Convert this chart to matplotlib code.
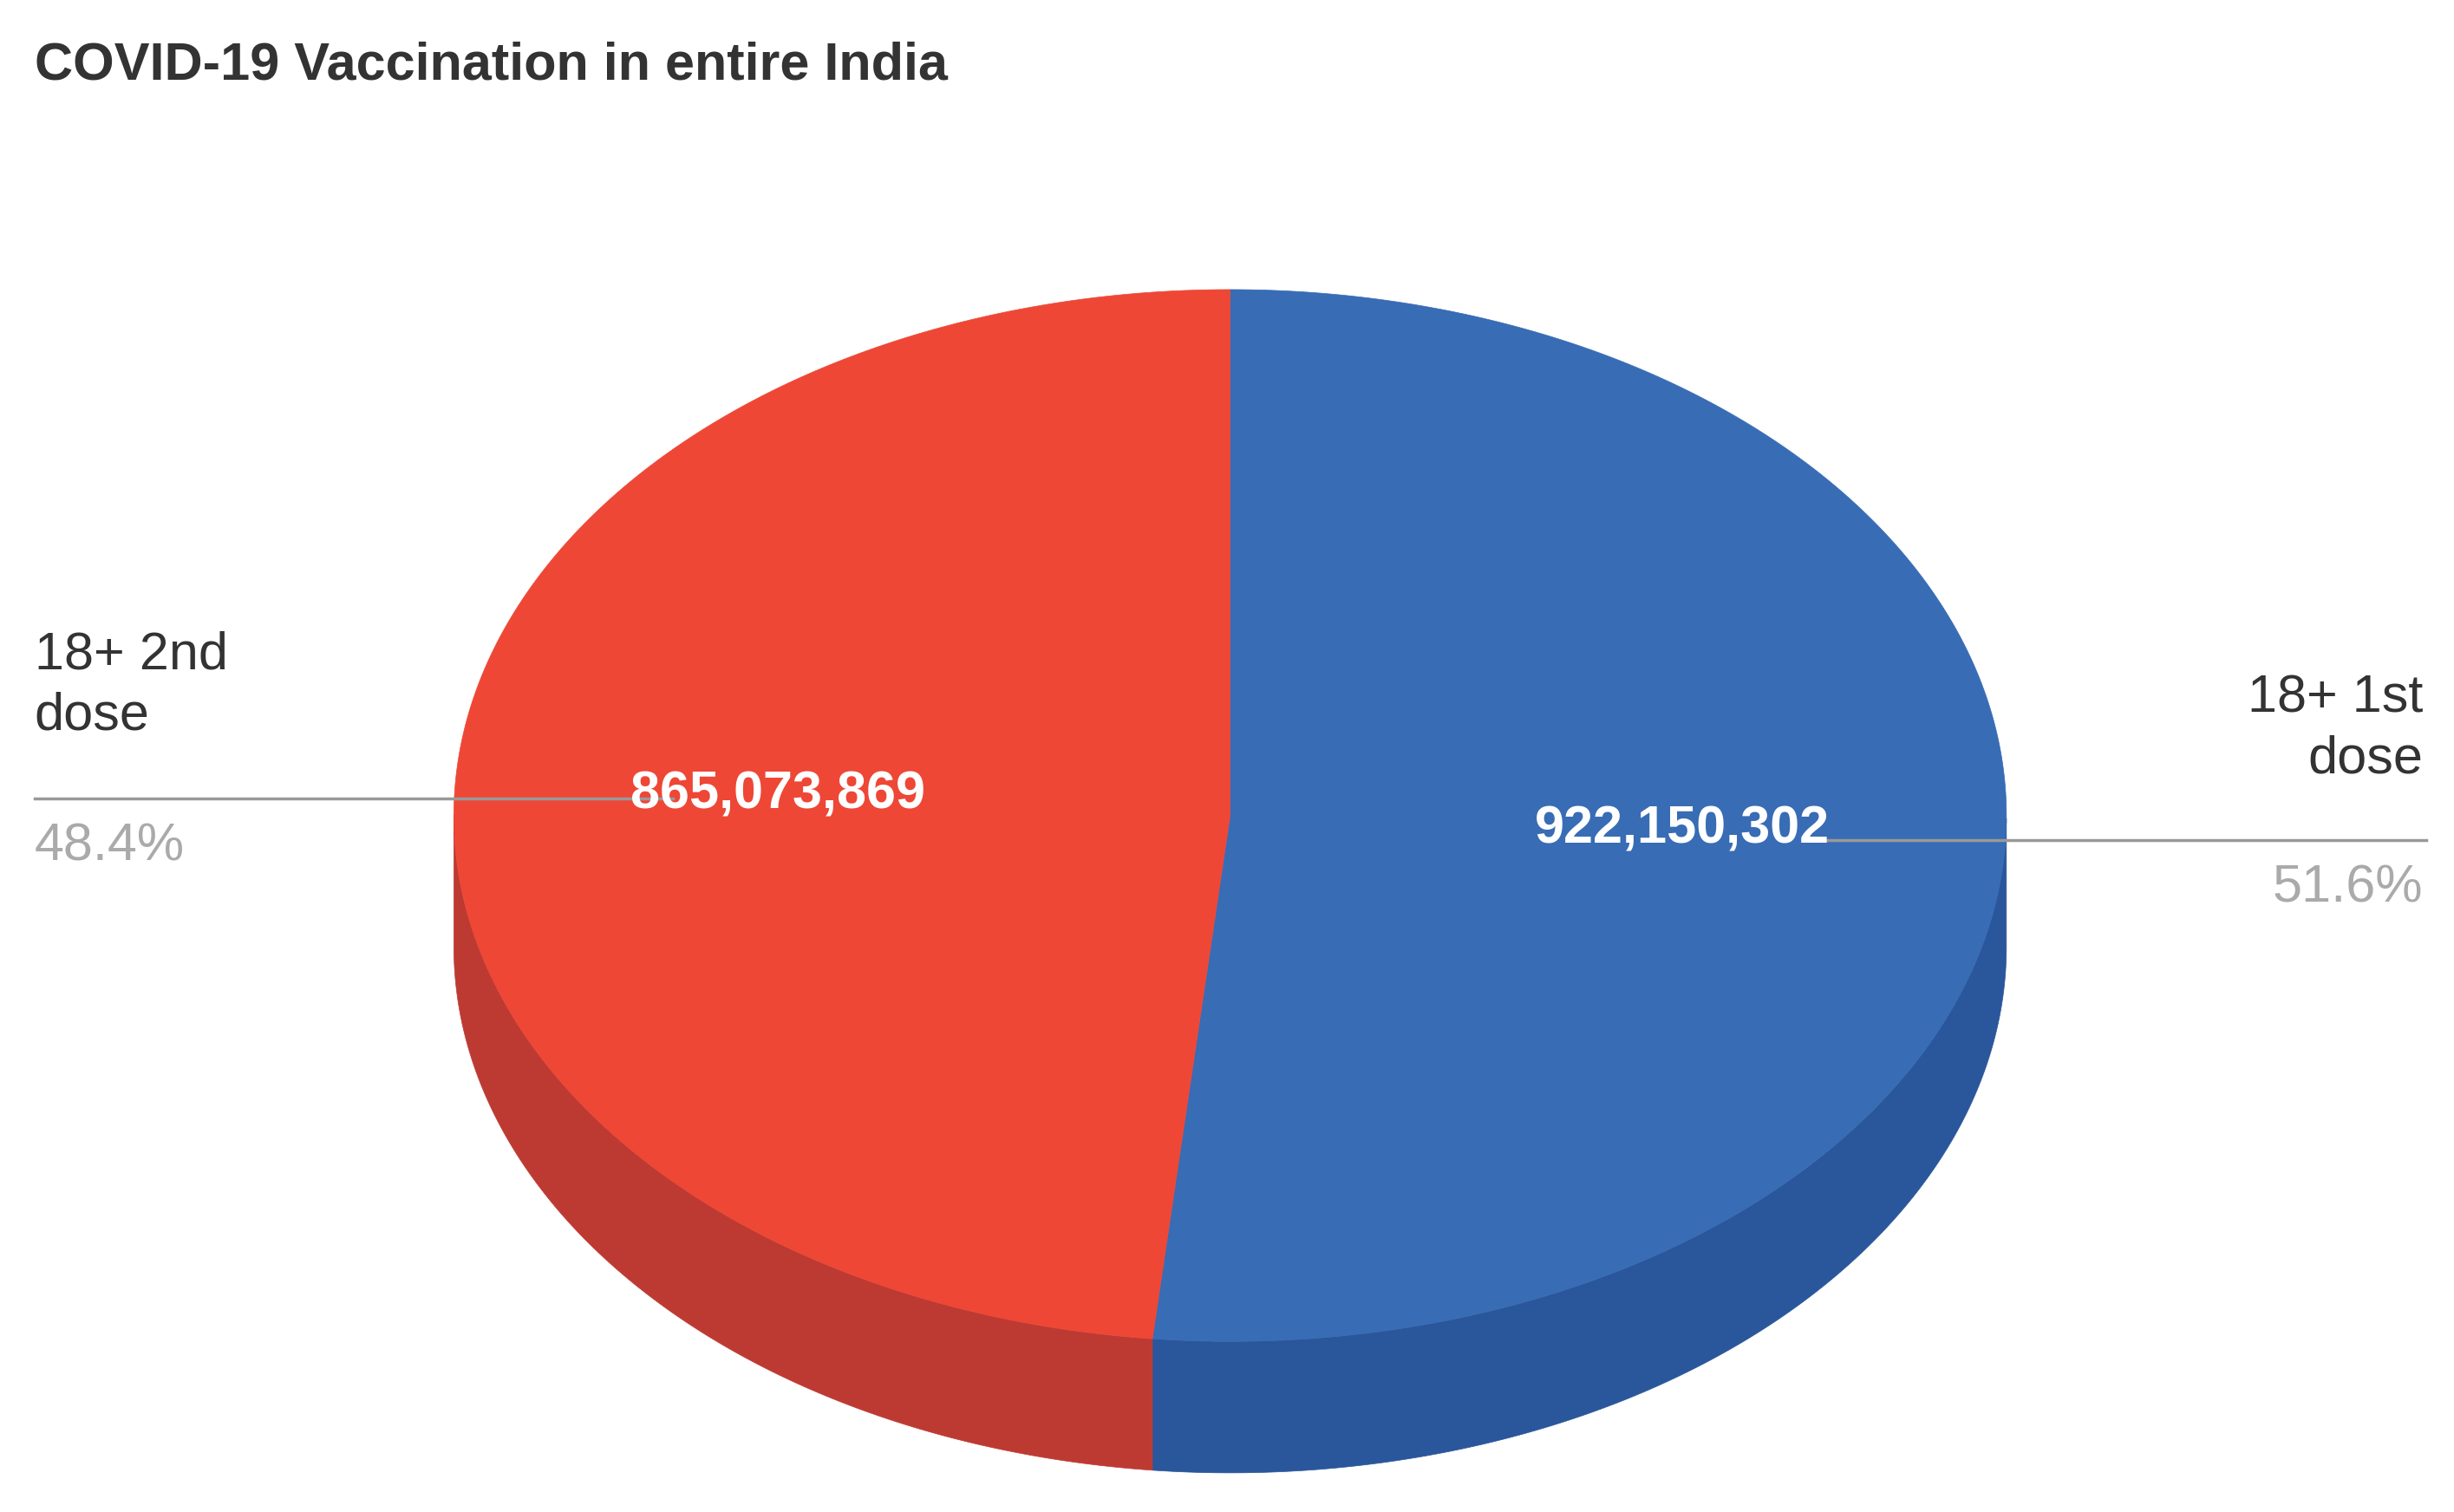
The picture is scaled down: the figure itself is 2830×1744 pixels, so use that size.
import numpy as np
import matplotlib
matplotlib.use("Agg")
import matplotlib.pyplot as plt
from matplotlib.patches import Polygon

labels = ["18+ 1st\ndose", "18+ 2nd\ndose"]
values = [922150302, 865073869]
colors_top = ["#386cb5", "#ee4736"]
colors_side = ["#2a569b", "#bd3a33"]

fig = plt.figure(figsize=(28.3, 17.44), dpi=100)
ax = fig.add_axes([0, 0, 1, 1])
ax.set_xlim(0, 1568)
ax.set_ylim(966, 0)
ax.axis("off")
plt.rcParams['font.family'] = ['Liberation Sans', 'DejaVu Sans']

cx, cy, a, b, depth = 786, 521, 496, 336, 84
total = sum(values)
fr = [v / total for v in values]

def pt(ang):
    return cx + a * np.cos(ang), cy - b * np.sin(ang)

start = np.pi / 2
wedges = []
for f in fr:
    end = start - 2 * np.pi * f
    wedges.append((start, end))
    start = end

# sides (front, lower half: sin<0)
for (s, e), col in zip(wedges, colors_side):
    t = np.linspace(s, e, 400)
    t = t[np.sin(t) <= 0.001]
    if len(t) < 2:
        continue
    xs, ys = pt(t)
    poly = list(zip(xs, ys)) + list(zip(xs[::-1], ys[::-1] + depth))
    ax.add_patch(Polygon(poly, closed=True, fc=col, ec=col, lw=0.5))
# tops
for (s, e), col in zip(wedges, colors_top):
    t = np.linspace(s, e, 400)
    xs, ys = pt(t)
    poly = [(cx, cy)] + list(zip(xs, ys))
    ax.add_patch(Polygon(poly, closed=True, fc=col, ec=col, lw=0.5))

fs = 44
ax.text(22, 42, "COVID-19 Vaccination in entire India", fontsize=fs, fontweight="bold",
        color="#333333", va="center", ha="left")

# leader lines
ax.plot([1160, 1550], [537, 537], color="#999999", lw=2.5)
ax.plot([22, 430], [510, 510], color="#999999", lw=2.5)

ax.text(1075, 530, f"{values[0]:,}", fontsize=fs, fontweight="bold", color="white",
        ha="center", va="center")
ax.text(497, 508, f"{values[1]:,}", fontsize=fs, fontweight="bold", color="white",
        ha="center", va="center")

ax.text(1548, 466, labels[0], fontsize=fs, color="#333333", ha="right", va="center",
        linespacing=1.3)
ax.text(1548, 568, f"{fr[0]*100:.1f}%", fontsize=fs, color="#aaaaaa", ha="right", va="center")
ax.text(22, 438, labels[1], fontsize=fs, color="#333333", ha="left", va="center",
        linespacing=1.3)
ax.text(22, 541, f"{fr[1]*100:.1f}%", fontsize=fs, color="#aaaaaa", ha="left", va="center")

fig.savefig("out.png", dpi=100, facecolor="white")
